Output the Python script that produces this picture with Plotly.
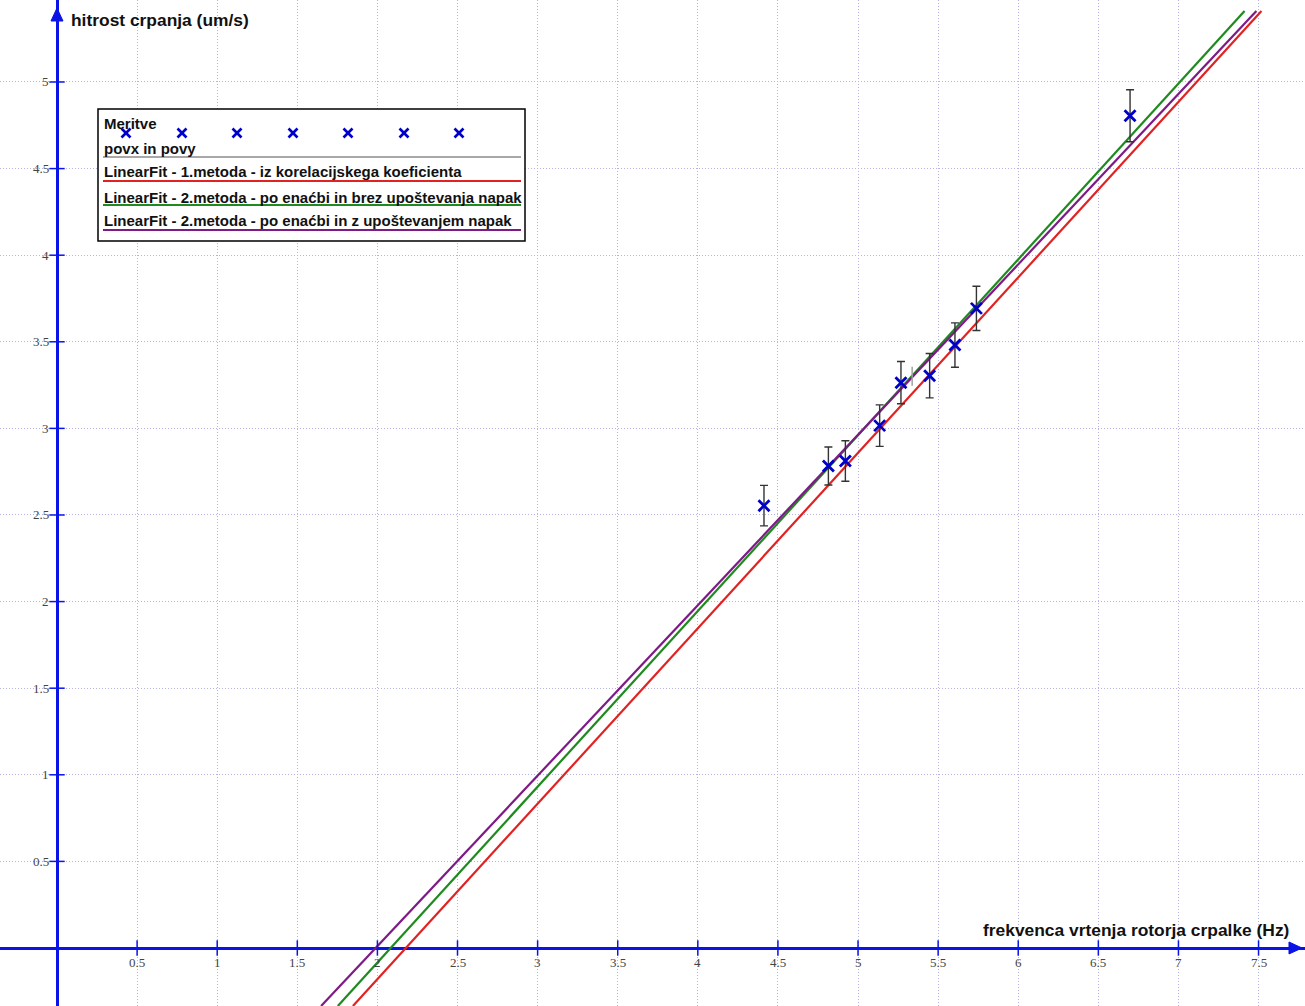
import plotly.graph_objects as go
import numpy as np

# Measurements: pump rotor frequency (Hz) vs. pumping speed (um/s) with uncertainties
freq = [4.413, 4.815, 4.921, 5.135, 5.268, 5.447, 5.605, 5.739, 6.698]
speed = [2.554, 2.783, 2.812, 3.016, 3.264, 3.304, 3.481, 3.693, 4.805]
speed_err = [0.117, 0.110, 0.117, 0.120, 0.122, 0.128, 0.128, 0.128, 0.150]

# Linear fits y = k*x + n
fit_names = [
    "LinearFit - 1.metoda - iz korelacijskega koeficienta",
    "LinearFit - 2.metoda - po enaćbi in brez upoštevanja napak",
    "LinearFit - 2.metoda - po enaćbi in z upoštevanjem napak",
]
fit_k = [1.013, 1.015, 0.984]
fit_n = [-2.206, -2.114, -1.957]
fit_colors = ["#e02222", "#1f8a1f", "#7d1a86"]

# Axis ticks
x_ticks = [0.5, 1, 1.5, 2, 2.5, 3, 3.5, 4, 4.5, 5, 5.5, 6, 6.5, 7, 7.5]
x_tick_labels = ["0.5", "1", "1.5", "2", "2.5", "3", "3.5", "4", "4.5", "5", "5.5", "6", "6.5", "7", "7.5"]
y_ticks = [0.5, 1, 1.5, 2, 2.5, 3, 3.5, 4, 4.5, 5]
y_tick_labels = ["0.5", "1", "1.5", "2", "2.5", "3", "3.5", "4", "4.5", "5"]

W, H = 1305, 1006
X_RANGE = [-0.3558, 7.790]
Y_RANGE = [-0.3349, 5.4734]
LINE_Y_MAX = 5.41          # fitted lines stop just below the top edge
AXIS_BLUE = "#0a14e6"
GRID = "#b4b4e4"


def px(xp):
    """pixel column -> paper fraction"""
    return xp / W


def py(yp):
    """pixel row (from top) -> paper fraction"""
    return 1 - yp / H


fig = go.Figure()

# fitted lines from the bottom edge up to LINE_Y_MAX
for name, k, n, c in zip(fit_names, fit_k, fit_n, fit_colors):
    x_lo = (Y_RANGE[0] - n) / k
    x_hi = (LINE_Y_MAX - n) / k
    xs = np.array([x_lo, x_hi])
    fig.add_trace(go.Scatter(x=xs, y=k * xs + n, mode="lines", name=name,
                             line=dict(color=c, width=2.2), showlegend=False))

# mean point (povx, povy)
povx = float(np.mean(freq))
povy = float(np.mean(speed))
fig.add_trace(go.Scatter(x=[povx], y=[povy], mode="markers", name="povx in povy",
                         marker=dict(size=1, color="rgba(0,0,0,0)"),
                         error_y=dict(type="constant", value=0.055, color="#a0a0a0",
                                      thickness=1.5, width=0),
                         showlegend=False))

# measurements with error bars
fig.add_trace(go.Scatter(x=freq, y=speed, mode="markers", name="Meritve",
                         marker=dict(symbol="x-thin-open", size=11, color="#0000cc",
                                     line=dict(color="#0000cc", width=2.8)),
                         error_y=dict(type="data", array=speed_err, color="#333333",
                                      thickness=1.4, width=4),
                         showlegend=False))

# tick marks crossing the axes
fig.add_trace(go.Scatter(x=x_ticks, y=[0] * len(x_ticks), mode="markers", hoverinfo="skip",
                         marker=dict(symbol="line-ns-open", size=11, color=AXIS_BLUE,
                                     line=dict(color=AXIS_BLUE, width=1.5)),
                         showlegend=False))
fig.add_trace(go.Scatter(x=[0] * len(y_ticks), y=y_ticks, mode="markers", hoverinfo="skip",
                         marker=dict(symbol="line-ew-open", size=11, color=AXIS_BLUE,
                                     line=dict(color=AXIS_BLUE, width=1.5)),
                         showlegend=False))

annotations = []
tick_font = dict(family="Liberation Serif", size=13, color="#444444")
for t, lab in zip(x_ticks, x_tick_labels):
    annotations.append(dict(x=t, y=0, xref="x", yref="y", text=lab, showarrow=False,
                            xanchor="center", yanchor="top", yshift=-5, font=tick_font))
for t, lab in zip(y_ticks, y_tick_labels):
    annotations.append(dict(x=0, y=t, xref="x", yref="y", text=lab, showarrow=False,
                            xanchor="right", yanchor="middle", xshift=-6, font=tick_font))

title_font = dict(family="Liberation Sans", size=17.4, color="#111111")
annotations.append(dict(x=px(1291), y=py(930), xref="paper", yref="paper",
                        text="<b>frekvenca vrtenja rotorja crpalke (Hz)</b>",
                        showarrow=False, xanchor="right", yanchor="middle", font=title_font))
annotations.append(dict(x=px(69), y=py(20), xref="paper", yref="paper",
                        text="<b>hitrost crpanja (um/s)</b>",
                        showarrow=False, xanchor="left", yanchor="middle", font=title_font))

# legend box
shapes = []
LX0, LX1, LY0, LY1 = 98, 525, 109, 241
shapes.append(dict(type="rect", xref="paper", yref="paper", x0=px(LX0), x1=px(LX1),
                   y0=py(LY1), y1=py(LY0), fillcolor="white",
                   line=dict(color="black", width=1.5), layer="above"))
leg_font = dict(family="Liberation Sans", size=15, color="#111111")
leg_rows = [("Meritve", 123, None, None), ("povx in povy", 148, "#a8a8a8", 157)]
leg_rows += [(nm, y, c, u) for nm, y, c, u in zip(fit_names, [172, 197, 221], fit_colors, [181, 205, 230])]
for text, yy, col, uy in leg_rows:
    annotations.append(dict(x=px(102), y=py(yy), xref="paper", yref="paper",
                            text="<b>%s</b>" % text, showarrow=False,
                            xanchor="left", yanchor="middle", font=leg_font))
    if col is not None:
        shapes.append(dict(type="line", xref="paper", yref="paper", x0=px(103), x1=px(521),
                           y0=py(uy), y1=py(uy), line=dict(color=col, width=2.2), layer="above"))

# row of measurement symbols in the legend
sym_x = [126, 182, 237, 293, 348, 404, 459]
sym_y, half = 133, 4.5
for sx in sym_x:
    for d in (1, -1):
        shapes.append(dict(type="line", xref="paper", yref="paper",
                           x0=px(sx - half), x1=px(sx + half),
                           y0=py(sym_y - d * half), y1=py(sym_y + d * half),
                           line=dict(color="#0000cc", width=2.6), layer="above"))

# axis arrowheads
shapes.append(dict(type="path", xref="paper", yref="paper",
                   path="M %f,%f L %f,%f L %f,%f Z" % (px(1289), py(942), px(1302), py(948), px(1289), py(954)),
                   fillcolor=AXIS_BLUE, line=dict(color=AXIS_BLUE, width=1), layer="above"))
shapes.append(dict(type="path", xref="paper", yref="paper",
                   path="M %f,%f L %f,%f L %f,%f Z" % (px(51), py(21), px(57), py(8), px(63), py(21)),
                   fillcolor=AXIS_BLUE, line=dict(color=AXIS_BLUE, width=1), layer="above"))

fig.update_layout(
    width=W, height=H, autosize=False,
    margin=dict(l=0, r=0, t=0, b=0, pad=0),
    paper_bgcolor="white", plot_bgcolor="white",
    showlegend=False,
    xaxis=dict(range=X_RANGE, dtick=0.5, tick0=0, showticklabels=False, ticks="",
               showgrid=True, gridcolor=GRID, griddash="1px,2px", gridwidth=1,
               zeroline=True, zerolinecolor=AXIS_BLUE, zerolinewidth=3, showline=False,
               fixedrange=True),
    yaxis=dict(range=Y_RANGE, dtick=0.5, tick0=0, showticklabels=False, ticks="",
               showgrid=True, gridcolor=GRID, griddash="1px,2px", gridwidth=1,
               zeroline=True, zerolinecolor=AXIS_BLUE, zerolinewidth=3, showline=False,
               fixedrange=True),
    annotations=annotations,
    shapes=shapes,
)

fig.write_html("out.html")
